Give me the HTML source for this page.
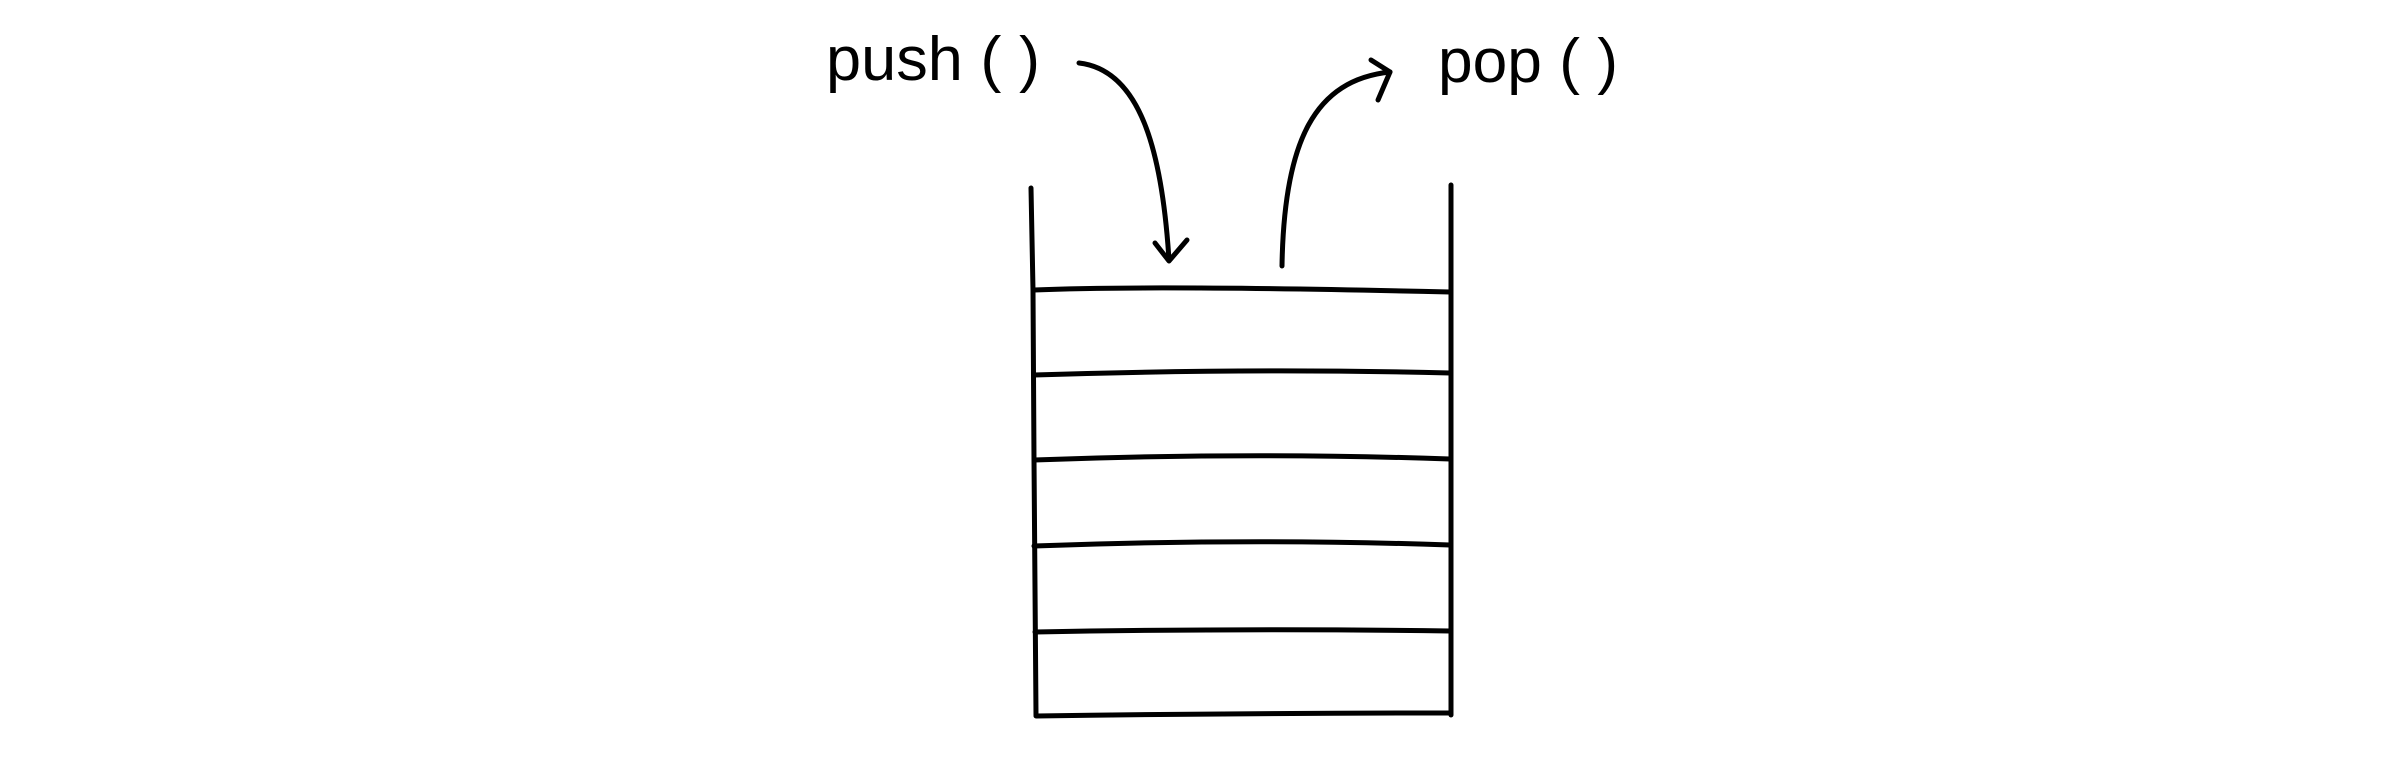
<!DOCTYPE html>
<html><head><style>
html,body{margin:0;padding:0;background:#fff;}
svg{display:block}
text{font-family:"Liberation Sans",sans-serif;font-size:62px;fill:#000}
</style></head><body>
<svg width="2400" height="762" viewBox="0 0 2400 762" xmlns="http://www.w3.org/2000/svg">
<g fill="none" stroke="#000" stroke-width="5" stroke-linecap="round" stroke-linejoin="round">
<path d="M1031 188 L1033 290 L1034 460 L1036 715"/>
<path d="M1451 185 L1451 715"/>
<path d="M1034 290 Q1150 285 1450 292"/>
<path d="M1034 375 Q1250 368 1450 373"/>
<path d="M1034 460 Q1250 452 1450 459"/>
<path d="M1034 546 Q1250 538 1450 545"/>
<path d="M1035 632 Q1250 628 1450 631"/>
<path d="M1036 716 Q1250 713 1450 713"/>
<path d="M1079 63 C1140 70 1162 150 1169 260"/>
<path d="M1155 243 L1169 261 L1187 240"/>
<path d="M1282 266 C1284 140 1315 80 1390 72"/>
<path d="M1371 60 L1390 72 L1378 100"/>
</g>
<text x="826" y="80" textLength="214" lengthAdjust="spacingAndGlyphs">push ( )</text>
<text x="1438" y="82" textLength="180" lengthAdjust="spacingAndGlyphs">pop ( )</text>
</svg>
</body></html>
